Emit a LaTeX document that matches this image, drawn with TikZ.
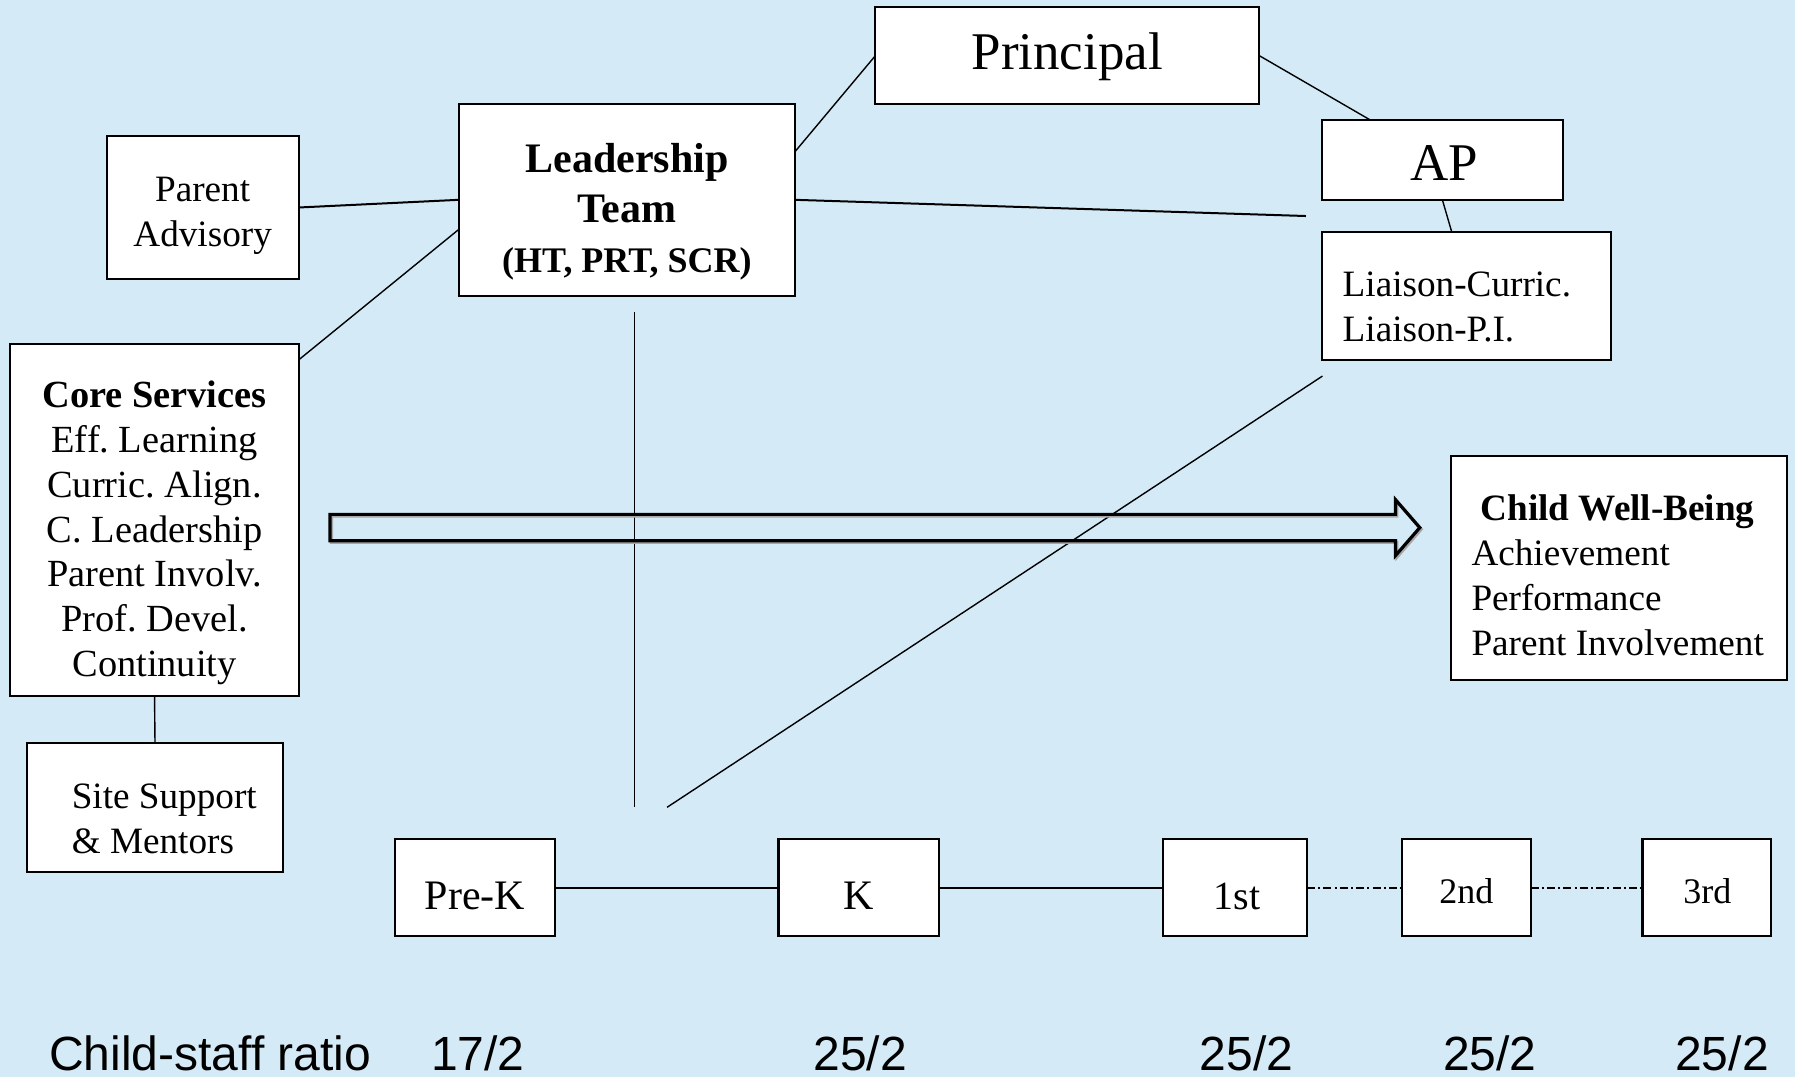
\documentclass[tikz,border=0pt]{standalone}
\usepackage{fontspec}
\setmainfont{Liberation Serif}
\newfontfamily\ratiofont{Liberation Sans}
\usetikzlibrary{fit}
\definecolor{paper}{RGB}{212,235,247}
\frenchspacing
\begin{document}
\begin{tikzpicture}[x=0.5724pt,y=-0.5724pt,
  box/.style={draw=black, fill=white, line width=1.05pt, inner sep=0pt, outer sep=0pt},
  txt/.style={inner sep=0pt, outer sep=0pt},
  thinlink/.style={line width=0.7pt},
  thicklink/.style={line width=1pt},
  dotlink/.style={line width=1pt, dash pattern=on 4pt off 1.6pt on 1pt off 1.6pt},
  bigarrow/.style={line width=1.6pt, line join=miter},
  body/.style={font=\fontsize{18.6}{22.5}\selectfont},
  ratio/.style={txt, font=\ratiofont\fontsize{24}{28}\selectfont}]

% page
\fill[paper] (0,0) rectangle (1568,941);
\useasboundingbox (0,0) rectangle (1568,941);

% free ends of the open connectors
\coordinate (ltend) at (1140.8,188.7);
\coordinate (vtop) at (554.1,272.8);
\coordinate (vbot) at (554.1,705.2);
\coordinate (dtop) at (1155.2,328.5);
\coordinate (dbot) at (582.7,705.2);

% boxes
\node[box, fit={(764.7,6.4) (1100,90.8)}] (pr) {};
\node[box, fit={(1155,104.8) (1365,174.7)}] (ap) {};
\node[box, fit={(1155,202.4) (1407,314.5)}] (li) {};
\node[box, fit={(400.7,90.8) (694.5,258.3)}] (lt) {};
\node[box, fit={(93.3,118.5) (261,244)}] (pa) {};
\node[box, fit={(9,300.5) (261,608)}] (cs) {};
\node[box, fit={(23.6,649.3) (247.2,762)}] (ss) {};
\node[box, fit={(1267.2,398.3) (1561.3,594)}] (cw) {};
\node[box, fit={(345,733.2) (484.9,817.6)}] (pk) {};
\node[box, fit={(680,733.2) (820,817.6)}] (kg) {};
\node[box, fit={(1015.6,733.2) (1141.7,817.6)}] (g1) {};
\node[box, fit={(1225,733.2) (1337.1,817.6)}] (g2) {};
\node[box, fit={(1434.8,733.2) (1547,817.6)}] (g3) {};

% connectors
\draw[thicklink] (pa.east) -- (lt.west);
\draw[thinlink] (lt.190.5) -- (cs.48);
\draw[thinlink] (lt.16) -- (pr.west);
\draw[thinlink] (pr.east) -- (ap.151);
\draw[thicklink] (lt.east) -- (ltend);
\draw[thinlink] (ap.south) -- (li.103.7);
\draw[thinlink] (cs.south) -- (ss.north);
\draw[thinlink] (vtop) -- (vbot);
\draw[thinlink] (dtop) -- (dbot);
\draw[thicklink] (pk.east) -- (kg.west);
\draw[thicklink] (kg.east) -- (g1.west);
\draw[dotlink] (g1.east) -- (g2.west);
\draw[dotlink] (g2.east) -- (g3.west);

% outlined block arrow
\draw[bigarrow, black!35, shift={(1.2,1.4)}]
  (288.3,449.3) -- (1219,449.3) -- (1219,436.5) -- (1240.2,460.9)
  -- (1219,485.3) -- (1219,472.3) -- (288.3,472.3) -- cycle;
\draw[bigarrow]
  (288.3,449.3) -- (1219,449.3) -- (1219,436.5) -- (1240.2,460.9)
  -- (1219,485.3) -- (1219,472.3) -- (288.3,472.3) -- cycle;

% texts (multi-line nodes are placed by the baseline of their last line)
\node[txt, anchor=base, font=\fontsize{26.5}{30}\selectfont] (pr-t) at (932.3,60.3) {Principal};
\node[txt, anchor=base, font=\fontsize{26.5}{30}\selectfont] (ap-t) at (1261.5,158) {AP};
\node[txt, body, align=left, anchor=base west] (li-t) at (1172.9,298.5) {Liaison-Curric.\\Liaison-P.I.};
\node[txt, align=center, anchor=base, font=\fontsize{21}{25}\selectfont\bfseries] (lt-t) at (547.6,238.2)
  {Leadership\\Team\\\fontsize{18}{25}\selectfont(HT, PRT, SCR)};
\node[txt, body, align=center, anchor=base] (pa-t) at (177,214.9) {Parent\\Advisory};
\node[txt, align=center, anchor=base, font=\fontsize{19.2}{22.4}\selectfont] (cs-t) at (135,591)
  {\textbf{Core Services}\\Eff. Learning\\Curric. Align.\\C. Leadership\\Parent Involv.\\Prof. Devel.\\Continuity};
\node[txt, body, align=left, anchor=base west] (ss-t) at (62.7,745.4) {Site Support\\\& Mentors};
\node[txt, anchor=base, font=\fontsize{18.6}{22.5}\selectfont\bfseries] (cw-t) at (1413,455.1) {Child Well-Being};
\node[txt, body, align=left, anchor=base west] (cw-l) at (1285.4,572.2) {Achievement\\Performance\\Parent Involvement};
\node[txt, anchor=base, font=\fontsize{21}{25}\selectfont] (pk-t) at (415,794.3) {Pre-K};
\node[txt, anchor=base, font=\fontsize{21}{25}\selectfont] (kg-t) at (750.4,794.3) {K};
\node[txt, anchor=base, font=\fontsize{20}{24}\selectfont] (g1-t) at (1080.8,794.3) {1st};
\node[txt, anchor=base, font=\fontsize{18}{22}\selectfont] (g2-t) at (1281,789) {2nd};
\node[txt, anchor=base, font=\fontsize{18}{22}\selectfont] (g3-t) at (1491.4,789) {3rd};

% child-staff ratios
\node[ratio, anchor=base west] (r0) at (43,935) {Child-staff ratio};
\node[ratio, anchor=base] (r1) at (417.5,935) {17/2};
\node[ratio, anchor=base] (r2) at (751.5,935) {25/2};
\node[ratio, anchor=base] (r3) at (1089,935) {25/2};
\node[ratio, anchor=base] (r4) at (1301.5,935) {25/2};
\node[ratio, anchor=base] (r5) at (1504.2,935) {25/2};
\end{tikzpicture}
\end{document}
